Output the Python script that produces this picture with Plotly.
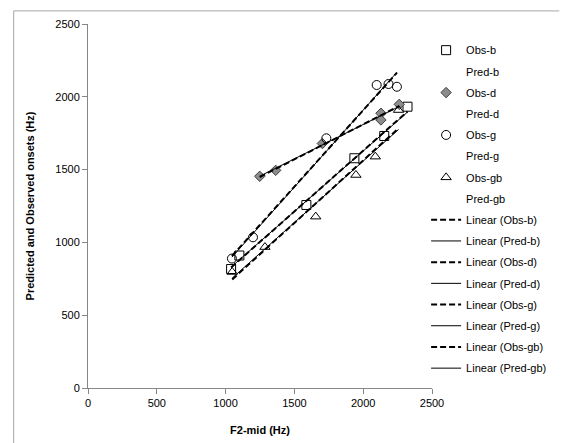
import numpy as np
import plotly.graph_objects as go

# ---- data ----
x_b = [1040, 1100, 1587, 1936, 2153, 2322]
obs_b = [817, 910, 1257, 1578, 1731, 1932]
pred_b = [830, 880, 1290, 1570, 1750, 1900]

x_d = [1248, 1364, 1703, 2129, 2129, 2262]
obs_d = [1454, 1495, 1679, 1887, 1841, 1948]
pred_d = [1450, 1510, 1680, 1860, 1870, 1940]

x_g = [1046, 1199, 1732, 2098, 2184, 2245]
obs_g = [889, 1035, 1715, 2081, 2088, 2069]
pred_g = [880, 1030, 1720, 2060, 2100, 2080]

x_gb = [1048, 1286, 1655, 1947, 2088, 2257]
obs_gb = [797, 968, 1177, 1463, 1589, 1909]
pred_gb = [790, 980, 1200, 1450, 1600, 1880]

x_ticks = [0, 500, 1000, 1500, 2000, 2500]
y_ticks = [0, 500, 1000, 1500, 2000, 2500]

series = [
    ("b", x_b, obs_b, pred_b, dict(symbol="square-open", size=9, color="black", line=dict(width=1, color="black"))),
    ("d", x_d, obs_d, pred_d, dict(symbol="diamond", size=8, color="#8c8c8c", line=dict(width=1, color="#404040"))),
    ("g", x_g, obs_g, pred_g, dict(symbol="circle-open", size=9, color="black", line=dict(width=1, color="black"))),
    ("gb", x_gb, obs_gb, pred_gb, dict(symbol="triangle-up-open", size=9, color="black", line=dict(width=1, color="black"))),
]

FONT = "Liberation Sans"
fig = go.Figure()
gid = 0
for name, xs, obs, pred, mk in series:
    gid += 1
    fig.add_trace(go.Scatter(x=xs, y=obs, mode="markers", name=f"Obs-{name}", marker=mk,
                             legendgroup=f"g{gid}"))
    gid += 1
    fig.add_trace(go.Scatter(x=xs, y=pred, mode="markers", name=f"Pred-{name}",
                             marker=dict(size=1, color="rgba(0,0,0,0)"), legendgroup=f"g{gid}"))

for name, xs, obs, pred, mk in series:
    for kind, ys, dash, w in (("Obs", obs, "6px,3px", 2), ("Pred", pred, "solid", 1)):
        gid += 1
        a, b = np.polyfit(xs, ys, 1)
        xe = np.array([min(xs), max(xs)])
        fig.add_trace(go.Scatter(x=xe, y=a * xe + b, mode="lines", name=f"Linear ({kind}-{name})",
                                 line=dict(color="black", width=w, dash=dash), legendgroup=f"g{gid}"))

axis_common = dict(range=[0, 2500], showgrid=False, zeroline=False, showline=True,
                   linecolor="#868686", linewidth=1, ticks="outside", ticklen=5,
                   tickcolor="#868686", automargin=False,
                   tickfont=dict(family=FONT, size=11, color="black"))

fig.update_layout(
    width=563, height=443,
    margin=dict(l=88, r=130, t=24, b=55),
    paper_bgcolor="white", plot_bgcolor="white",
    font=dict(family=FONT, size=11, color="black"),
    xaxis=dict(**axis_common, tickvals=x_ticks,
               title=dict(text="<b>F2-mid (Hz)</b>", font=dict(family=FONT, size=11), standoff=18)),
    yaxis=dict(**axis_common, tickvals=y_ticks,
               title=dict(text="<b>Predicted and Observed onsets (Hz)</b>", font=dict(family=FONT, size=11), standoff=18)),
    legend=dict(x=0.98, xanchor="left", y=0.968, yanchor="top", traceorder="grouped",
                tracegroupgap=2.2, font=dict(family=FONT, size=11, color="black"),
                bgcolor="rgba(0,0,0,0)", itemwidth=30),
    shapes=[
        dict(type="line", xref="paper", yref="paper", x0=-0.216, x1=1.37, y0=1.036, y1=1.036,
             line=dict(color="#a6a6a6", width=1), layer="above"),
        dict(type="line", xref="paper", yref="paper", x0=-0.216, x1=-0.216, y0=-0.16, y1=1.036,
             line=dict(color="#a6a6a6", width=1), layer="above"),
    ],
)

fig.write_html("out.html", config={"displayModeBar": False},
               post_script="document.body.style.margin='0';document.body.style.overflow='hidden';")
